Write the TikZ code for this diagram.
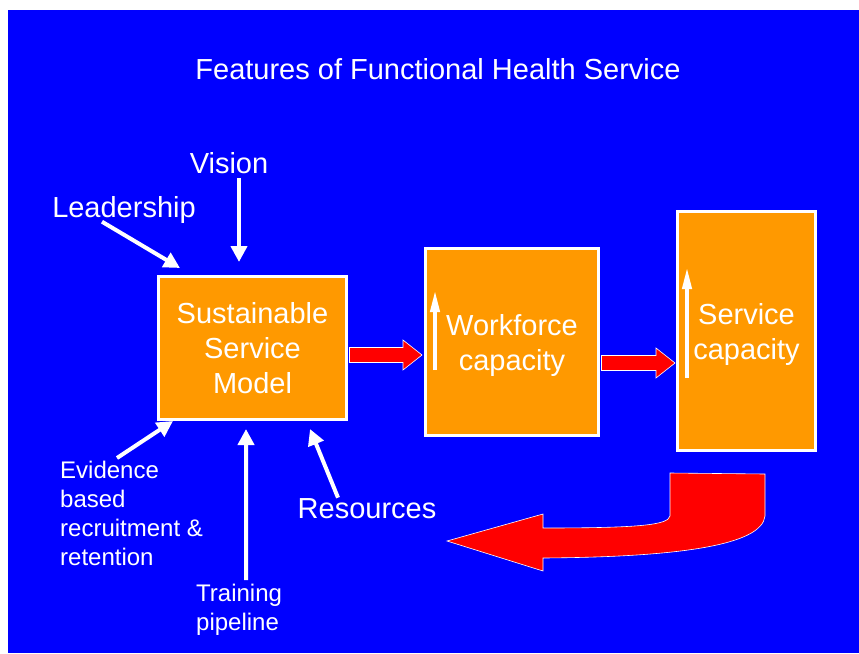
\documentclass[tikz,border=0pt]{standalone}
\usepackage{fontspec}
\setmainfont{Liberation Sans}
\usetikzlibrary{arrows.meta,calc}
\definecolor{slide}{RGB}{0,0,255}
\definecolor{boxfill}{RGB}{255,153,0}
\definecolor{flow}{RGB}{255,0,0}

% fat red arrow from #1 to the tip #2 (same height)
\newcommand{\fatarrow}[2]{%
  \fill[flow, draw=white, line width=0.6pt]
    ($#1+(0,-7.5)$) -- ($#2+(-19,-7.5)$) -- ($#2+(-19,-15)$) -- #2
    -- ($#2+(-19,15)$) -- ($#2+(-19,7.5)$) -- ($#1+(0,7.5)$) -- cycle;}

\begin{document}
\begin{tikzpicture}[x=1pt, y=-1pt,
  box/.style={draw=white, line width=3pt, fill=boxfill, text=white, align=center,
    inner sep=0pt, text depth=-3pt, font=\fontsize{29}{35}\selectfont},
  lbl/.style={text=white, inner sep=0pt, font=\fontsize{29}{35}\selectfont},
  small/.style={text=white, inner sep=0pt, align=left, font=\fontsize{24}{29}\selectfont},
  warr/.style={white, line width=4pt, -{Triangle[width=16pt,length=16pt]}},
  uparr/.style={white, line width=4pt, -{Triangle[width=9pt,length=22pt]}},
]
\useasboundingbox (0,0) rectangle (859,653);
\fill[white] (0,0) rectangle (859,653);
\fill[slide] (8,10) rectangle (859,653);

\node[lbl] (title) at (438,69) {Features of Functional Health Service};

% the three stages
\node[box, minimum width=188pt, minimum height=143pt] (ssm) at (252.5,348)
  {Sustainable\\Service\\Model};
\node[box, minimum width=173pt, minimum height=187pt] (wrk) at (512,342)
  {Workforce\\capacity};
\node[box, minimum width=138pt, minimum height=239pt] (svc) at (746.5,331)
  {Service\\capacity};

% inputs
\node[lbl] (vis) at (229,163) {Vision};
\node[lbl] (lead) at (124,210) {Leadership};
\node[lbl] (res) at (367,509) {Resources};
\node[small, anchor=north west] (evid) at (60,461)
  {Evidence\\based\\recruitment \&\\retention};
\node[small, anchor=north west] (train) at (196,584) {Training\\pipeline};

\draw[warr] ([xshift=-22pt,yshift=2pt]lead.south) -- ([shift={(23,-7)}]ssm.north west);
\draw[warr] ([xshift=10pt,yshift=-4pt]vis.south) -- ([shift={(-13.5,-13)}]ssm.north);
\draw[warr] ([xshift=57pt,yshift=3pt]evid.north west) -- ([xshift=16pt]ssm.south west);
\draw[warr] ([xshift=7pt,yshift=4pt]train.north) -- ([shift={(-6.5,8)}]ssm.south);
\draw[warr] ([xshift=-29pt,yshift=1pt]res.north) -- ([shift={(-38,8)}]ssm.south east);

% rising capacity
\draw[uparr] ([shift={(11,28)}]wrk.west) -- ([shift={(11,-52)}]wrk.west);
\draw[uparr] ([shift={(11,47)}]svc.west) -- ([shift={(11,-64)}]svc.west);

% flow between stages
\coordinate (a1) at ([xshift=1.5pt,yshift=-7pt]ssm.east);
\path (a1 -| wrk.west) ++(-2,0) coordinate (a1tip);
\coordinate (a2) at ([xshift=1.5pt,yshift=-21pt]wrk.east);
\path (a2 -| svc.west) ++(-1,0) coordinate (a2tip);
\fatarrow{(a1)}{(a1tip)}
\fatarrow{(a2)}{(a2tip)}

% feedback
\fill[flow, draw=white, line width=0.6pt]
  (670,473) -- (765,474) -- (765,516)
  .. controls (762,545) and (680,557) .. (543,558)
  -- (543,571) -- (447,541) -- (543,514) -- (543,528)
  .. controls (640,528) and (668,525) .. (670,516) -- cycle;
\end{tikzpicture}
\end{document}
